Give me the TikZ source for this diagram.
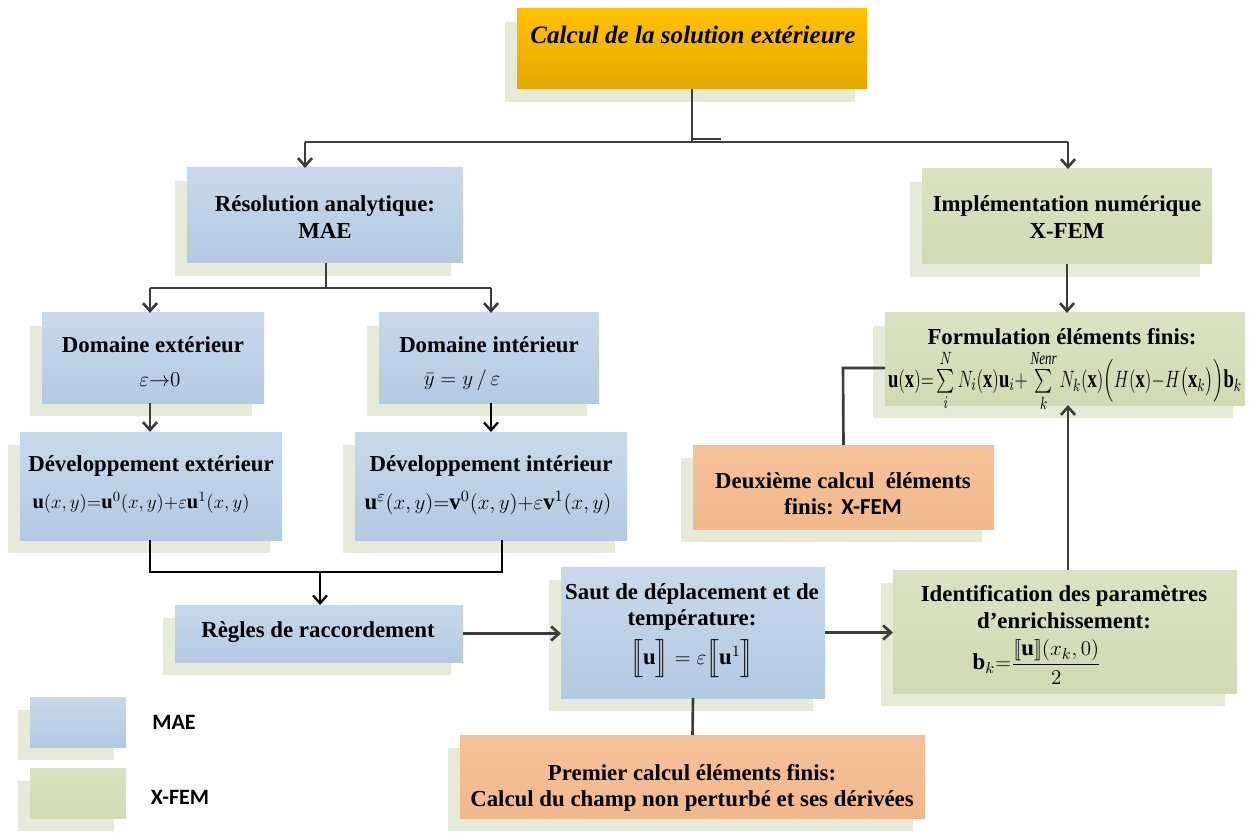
\documentclass[tikz,border=0pt]{standalone}
\usepackage{amsmath}
\usepackage{graphicx}
\usepackage{fontspec}
\setmainfont{Liberation Serif}
\newfontfamily\carlfont{Carlito}
\usetikzlibrary{arrows.meta}
\definecolor{shadowc}{HTML}{E6EAD9}
\definecolor{bluetop}{HTML}{C8D9EB}
\definecolor{bluebot}{HTML}{B3CAE2}
\definecolor{greentop}{HTML}{D9E3C2}
\definecolor{greenbot}{HTML}{D0DBB4}
\definecolor{orgtop}{HTML}{F5C29B}
\definecolor{orgbot}{HTML}{F1B88D}
\definecolor{goldtop}{HTML}{FFC200}
\definecolor{goldbot}{HTML}{E3A800}
\definecolor{linec}{HTML}{3C3C3C}
\newcommand\shbox[6]{%
  \fill[shadowc] ({#2-12},{#3+13}) rectangle ({#4-12},{#5+13});
  \node[#6, minimum width={(#4-#2)*0.02cm}, minimum height={(#5-#3)*0.02cm}] (#1) at ({(#2+#4)/2},{(#3+#5)/2}) {};
}
\tikzset{
  bx/.style={inner sep=0pt, outer sep=0pt, draw=none},
  blue/.style={bx, top color=bluetop, bottom color=bluebot},
  green/.style={bx, top color=greentop, bottom color=greenbot},
  orng/.style={bx, top color=orgtop, bottom color=orgbot},
  gold/.style={bx, top color=goldtop, bottom color=goldbot},
  txt/.style={inner sep=0pt, align=center, font=\fontsize{13}{15}\selectfont\bfseries},
  mth/.style={inner sep=0pt, font=\fontsize{13}{15}\selectfont},
  line/.style={draw=linec, line width=1.5pt},
  bline/.style={draw=black, line width=1.3pt},
  arr/.style={line, -{Straight Barb[length=4.5pt,width=8pt]}},
  barr/.style={bline, -{Straight Barb[length=4.5pt,width=8pt]}}
}
\begin{document}
\begin{tikzpicture}[x=0.02cm,y=-0.02cm]
\useasboundingbox (0,0) rectangle (1250,834);
% boxes
\shbox{title}{517}{9}{867}{89}{gold}
\shbox{res}{187}{168}{463}{263}{blue}
\shbox{impl}{922}{169}{1212}{264}{green}
\shbox{dext}{42}{313}{264}{403}{blue}
\shbox{dint}{379}{313}{599}{403}{blue}
\shbox{vext}{20}{432}{282}{540}{blue}
\shbox{vint}{355}{432}{627}{540}{blue}
\shbox{form}{885}{313}{1245}{405}{green}
\shbox{deux}{693}{445}{994}{529}{orng}
\shbox{regl}{175}{605}{463}{662}{blue}
\shbox{saut}{561}{567}{825}{698}{blue}
\shbox{ident}{893}{570}{1237}{693}{green}
\shbox{prem}{460}{735}{925}{818}{orng}
\shbox{legb}{30}{697}{126}{747}{blue}
\shbox{legg}{30}{768}{126}{818}{green}
% texts
\node[txt, font=\fontsize{14.3}{16}\selectfont\bfseries\itshape] (title-t) at (693,35) {Calcul de la solution extérieure};
\node[txt] (res-t) at (325,217) {Résolution analytique:\\MAE};
\node[txt] (impl-t) at (1067,217) {Implémentation numérique\\X-FEM};
\node[txt] (dext-t) at (153,345) {Domaine extérieur};
\node[mth] (dext-m) at (160,380) {$\varepsilon{\rightarrow}0$};
\node[txt] (dint-t) at (489,345) {Domaine intérieur};
\node[mth] (dint-m) at (462,380) {$\bar{y}=y\,/\,\varepsilon$};
\node[txt] (vext-t) at (151,466) {Développement extérieur};
\node[mth] (vext-m) at (141,503) {\resizebox{4.34cm}{!}{$\mathbf{u}(x,y){=}\mathbf{u}^0(x,y){+}\varepsilon\mathbf{u}^1(x,y)$}};
\node[txt] (vint-t) at (491,466) {Développement intérieur};
\node[mth] (vint-m) at (488,503) {\resizebox{4.94cm}{!}{$\mathbf{u}^{\varepsilon}(x,y){=}\mathbf{v}^0(x,y){+}\varepsilon\mathbf{v}^1(x,y)$}};
\node[txt] (form-t) at (1062,337) {Formulation éléments finis:};
\node[mth] (form-m) at (1065,381) {\resizebox{7.08cm}{0.74cm}{$\mathbf{u}(\mathbf{x}){=}\sum\limits_{i}^{N}N_i(\mathbf{x})\mathbf{u}_i{+}\sum\limits_{k}^{\mathit{Nenr}}N_k(\mathbf{x})\Big(H(\mathbf{x}){-}H\big(\mathbf{x}_k\big)\Big)\mathbf{b}_k$}};
\node[txt] (deux-t) at (843,494) {Deuxième calcul\ \ éléments\\finis: {\carlfont\bfseries X-FEM}};
\node[txt] (regl-t) at (318,632) {Règles de raccordement};
\node[txt] (saut-t) at (692,607) {Saut de déplacement et de\\température:};
\node[mth] (saut-m) at (692,659) {$\Big[\!\!\Big[\mathbf{u}\Big]\!\!\Big]=\varepsilon\Big[\!\!\Big[\mathbf{u}^1\Big]\!\!\Big]$};
\node[txt] (ident-t) at (1064,607) {Identification des paramètres\\d’enrichissement:};
\node[mth] (ident-m) at (1037,662) {$\mathbf{b}_k{=}\dfrac{[\![\mathbf{u}]\!](x_k,0)}{2}$};
\node[txt] (prem-t) at (692,788) {Premier calcul éléments finis:\\Calcul du champ non perturbé et ses dérivées};
\node[inner sep=0pt, font=\fontsize{12.5}{15}\selectfont\carlfont\bfseries] (legb-t) at (174,722) {MAE};
\node[inner sep=0pt, font=\fontsize{12.5}{15}\selectfont\carlfont\bfseries] (legg-t) at (180,797) {X-FEM};
% connectors
\coordinate (j1) at (692,142);
\coordinate (jl) at (305,142);
\coordinate (jr) at (1068,142);
\draw[line] (title.south) -- (j1);
\draw[line] (jl) -- (jr);
\draw[line] (692,139) -- (721,139);
\draw[arr] (jl) -- (jl |- res.north);
\draw[arr] (jr) -- (jr |- impl.north);
\coordinate (j2) at (326,288);
\coordinate (j2l) at (150,288);
\coordinate (j2r) at (491,288);
\draw[line] (j2 |- res.south) -- (j2);
\draw[line] (j2l) -- (j2r);
\draw[arr] (j2l) -- (j2l |- dext.north);
\draw[arr] (j2r) -- (j2r |- dint.north);
\draw[arr] (j2l |- dext.south) -- (j2l |- vext.north);
\draw[barr] (j2r |- dint.south) -- (j2r |- vint.north);
\coordinate (j3l) at (150,572);
\coordinate (j3r) at (502,572);
\coordinate (j3) at (320,572);
\draw[bline] (j3l |- vext.south) -- (j3l) -- (j3r) -- (j3r |- vint.south);
\draw[barr] (j3) -- (j3 |- regl.north);
\draw[arr] (regl.east) -- (saut.west |- regl.east);
\draw[arr] (saut.east) -- (ident.west |- saut.east);
\draw[line] (saut.south) -- (prem.north);
\coordinate (j4) at (1068,570);
\draw[arr] (j4) -- (j4 |- form.south);
\draw[arr] (impl.south) -- (impl.south |- form.north);
\coordinate (j5) at (843,368);
\draw[line] (deux.north) -- (j5) -- (j5 -| form.west);
\end{tikzpicture}
\end{document}
